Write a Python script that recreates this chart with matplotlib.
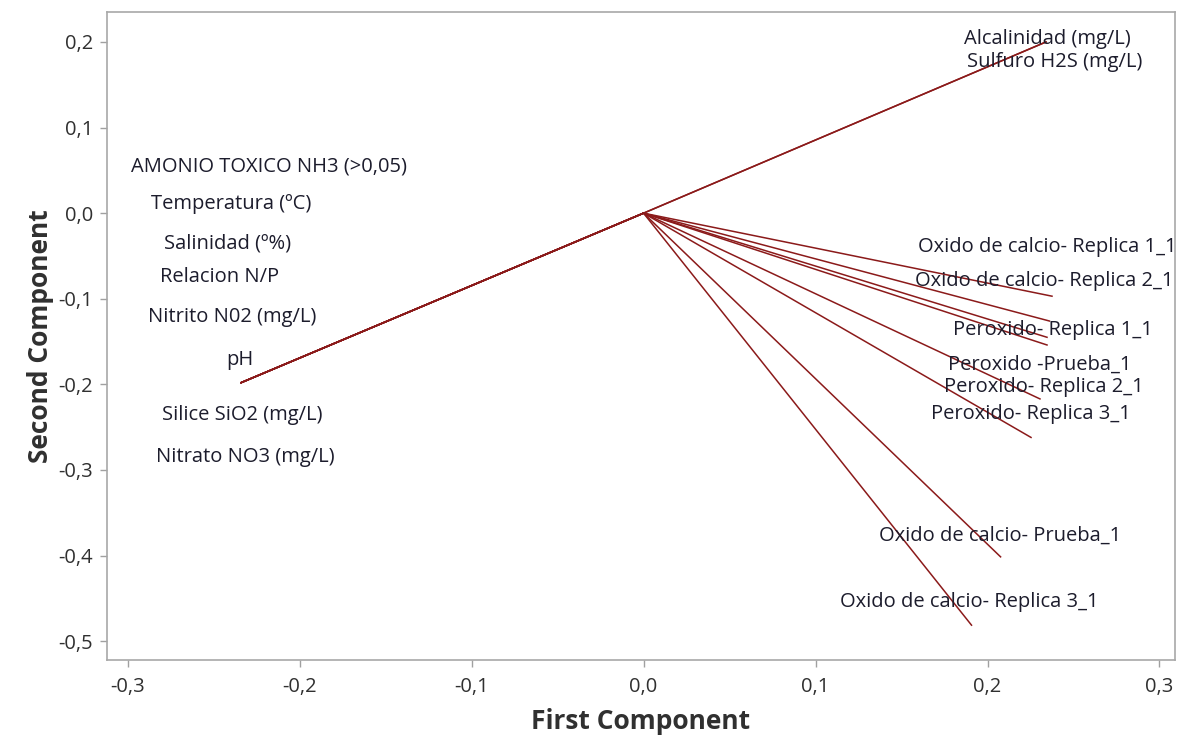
import matplotlib.pyplot as plt
from matplotlib.ticker import FuncFormatter

plt.rcParams['font.family'] = ['Open Sans', 'DejaVu Sans']

# variable names and loadings on the first two components
variables = ['Alcalinidad (mg/L)', 'Sulfuro H2S (mg/L)',
             'AMONIO TOXICO NH3 (>0,05)', 'Temperatura (ºC)', 'Salinidad (º%)',
             'Relacion N/P', 'Nitrito N02 (mg/L)', 'pH', 'Silice SiO2 (mg/L)',
             'Nitrato NO3 (mg/L)',
             'Oxido de calcio- Replica 1_1', 'Oxido de calcio- Replica 2_1',
             'Peroxido- Replica 1_1', 'Peroxido -Prueba_1',
             'Peroxido- Replica 2_1', 'Peroxido- Replica 3_1',
             'Oxido de calcio- Prueba_1', 'Oxido de calcio- Replica 3_1']
pc1 = [0.234, 0.234,
       -0.234, -0.234, -0.234, -0.234, -0.234, -0.234, -0.234, -0.234,
       0.2375, 0.236, 0.2346, 0.2346, 0.2305, 0.2253, 0.2076, 0.1907]
pc2 = [0.200, 0.200,
       -0.198, -0.198, -0.198, -0.198, -0.198, -0.198, -0.198, -0.198,
       -0.097, -0.126, -0.145, -0.154, -0.217, -0.262, -0.4015, -0.4813]

# where each label sits (spread out so overlapping vectors stay readable)
label_x = [0.2346, 0.2392,
           -0.2177, -0.2398, -0.2416, -0.2468, -0.2392, -0.2346, -0.2334, -0.2317,
           0.2346, 0.2328, 0.2381, 0.2305, 0.2328, 0.2253, 0.2072, 0.1892]
label_y = [0.2033, 0.1764,
           0.0549, 0.0105, -0.0350, -0.0748, -0.1215, -0.1717, -0.2360, -0.2850,
           -0.0397, -0.0794, -0.1367, -0.1776, -0.2033, -0.2348, -0.3773, -0.4544]

fig = plt.figure(figsize=(11.86, 7.4), dpi=100)
ax = fig.add_axes([0.0902, 0.1081, 0.9005, 0.8757])

for x, y in zip(pc1, pc2):
    ax.plot([0, x], [0, y], color='#8b1a1a', lw=1.1)

for name, x, y in zip(variables, label_x, label_y):
    ax.text(x, y, name, ha='center', va='center', fontsize=14.5, color='#1c1c2c')

ax.set_xlim(-0.312, 0.309)
ax.set_ylim(-0.522, 0.235)
ax.set_xticks([-0.3, -0.2, -0.1, 0.0, 0.1, 0.2, 0.3])
ax.set_yticks([-0.5, -0.4, -0.3, -0.2, -0.1, 0.0, 0.1, 0.2])
comma = FuncFormatter(lambda v, p: f'{v:.1f}'.replace('.', ',').replace('-0,0', '0,0'))
ax.xaxis.set_major_formatter(comma)
ax.yaxis.set_major_formatter(comma)
ax.tick_params(colors='#a0a0a0', labelcolor='#303030', labelsize=14.5, length=5, width=1)
ax.tick_params(axis='x', pad=7)
ax.tick_params(axis='y', pad=5)

for s in ax.spines.values():
    s.set_color('#a8a8a8')
    s.set_linewidth(1.2)

ax.set_xlabel('First Component', fontsize=19, fontweight='bold', color='#303030', labelpad=8)
ax.set_ylabel('Second Component', fontsize=19, fontweight='bold', color='#303030', labelpad=3)

plt.savefig('out.png', dpi=100)
